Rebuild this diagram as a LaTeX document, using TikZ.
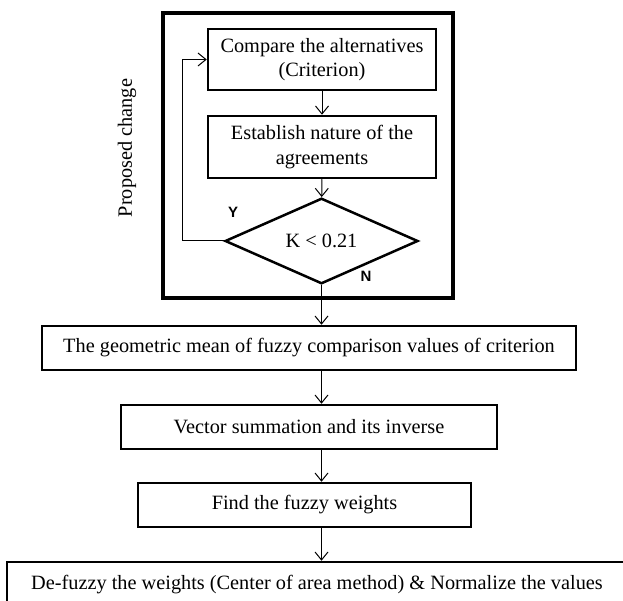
\documentclass[tikz,border=0pt]{standalone}
\usepackage{fontspec}
\setmainfont{Liberation Serif}
\newfontfamily\labelsans{Liberation Sans}
\usetikzlibrary{shapes.geometric,arrows.meta}

\begin{document}
\begin{tikzpicture}
[every node/.style={inner sep=0pt, font=\fontsize{20.3}{24.5}\selectfont},
 box/.style={rectangle, draw=black, line width=2.5pt, align=center},
 link/.style={line width=1pt, -{Straight Barb[length=8pt,width=13pt]}, color=black},
 yn/.style={font=\fontsize{15}{17}\selectfont\labelsans\bfseries}]
\clip (0pt,0pt) rectangle (623pt,-601pt);
\node (frame) [rectangle, draw=black, line width=4.5pt, minimum width=290pt, minimum height=285pt] at (308pt, -155.5pt) {};
\node (side) [rotate=90] at (127pt, -148pt) {Proposed change};
\node (cmp) [box, minimum width=228pt, minimum height=61pt] at (322pt, -59.5pt) {Compare the alternatives\\(Criterion)};
\node (est) [box, minimum width=228pt, minimum height=62pt] at (322pt, -147pt) {Establish nature of the\\agreements};
\node (dec) [diamond, draw=black, line width=2.5pt, minimum width=193pt, minimum height=69pt] at (321.5pt, -241pt) {K < 0.21};
\node (y) [yn] at (233pt, -212pt) {Y};
\node (n) [yn] at (366pt, -276pt) {N};
\node (geo) [box, minimum width=534pt, minimum height=44pt] at (309pt, -348pt) {The geometric mean of fuzzy comparison values of criterion};
\node (vec) [box, minimum width=376pt, minimum height=44pt] at (309pt, -427pt) {Vector summation and its inverse};
\node (fnd) [box, minimum width=333pt, minimum height=44pt] at (304.5pt, -505pt) {Find the fuzzy weights};
\node (dfz) [box, minimum width=620pt, minimum height=46pt] at (317pt, -585pt) {De-fuzzy the weights (Center of area method) \& Normalize the values};
\coordinate (bend) at (182pt, -241pt);
\draw [link] (cmp) -- (est);
\draw [link] (est) -- (dec);
\draw [link] (dec.west) -- (bend) |- (cmp.west);
\draw [link] (dec.south) -- (geo.north -| dec.south);
\draw [link] (geo.south -| dec.south) -- (vec.north -| dec.south);
\draw [link] (vec.south -| dec.south) -- (fnd.north -| dec.south);
\draw [link] (fnd.south -| dec.south) -- (dfz.north -| dec.south);
\end{tikzpicture}
\end{document}
